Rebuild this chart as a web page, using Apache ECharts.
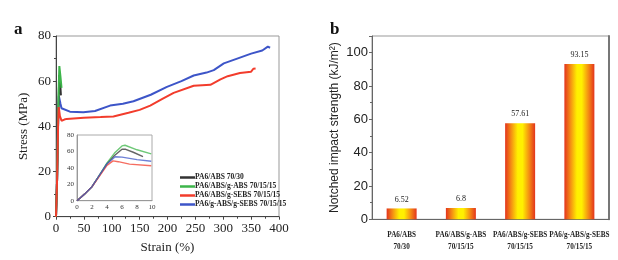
<!DOCTYPE html>
<html><head><meta charset="utf-8">
<script src="https://cdn.jsdelivr.net/npm/echarts@6/dist/echarts.min.js"></script>
<style>html,body{margin:0;padding:0;background:#fff}#c{width:618px;height:260px}</style>
</head><body><div id="c"></div>
<script>
const seriesNames = ['PA6/ABS 70/30','PA6/ABS/g-ABS 70/15/15','PA6/ABS/g-SEBS 70/15/15','PA6/g-ABS/g-SEBS 70/15/15'];
const blackData = [[0,0],[1,8],[2,17],[3,31],[4,45],[5,55],[6,62.7],[6.5,62.6],[7.5,59],[8.8,53.7]];
const greenData = [[0,0],[1,8],[2,17],[3,31],[4,46],[5,58],[6,66.7],[6.4,67.5],[8,62],[9.9,57]];
const redData = [[0,0],[1,8],[2,17],[3,30],[4,43],[4.8,48.5],[5.5,47.5],[7,44.5],[9.9,42.5],[15,43],[19,43.3],[50,43.8],[80,44.1],[103,44.4],[130,46],[150,47.3],[169,49.2],[190,52],[211,54.8],[247,58],[277,58.4],[295,60.8],[308,62.2],[330,63.6],[350,64.2],[354,65.5],[358,65.6]];
const blueData = [[0,0],[1,8],[2,17],[3,31],[4,45],[5.1,53.5],[6,53],[8,50],[9.9,48],[13,47.4],[25,46.5],[49,46.2],[70,46.8],[97,49.2],[120,50],[139,51.1],[170,54],[199,57.5],[225,60],[247,62.5],[270,63.8],[283,64.9],[301,67.9],[325,70],[350,72.2],[370,73.6],[380,75.3],[384,74.8]];
const colors = ['#333333','#3db54a','#f23c2c','#3d55c8'];
const barCategories = ['PA6/ABS\n70/30','PA6/ABS/g-ABS\n70/15/15','PA6/ABS/g-SEBS\n70/15/15','PA6/g-ABS/g-SEBS\n70/15/15'];
const barValues = [6.52, 6.8, 57.61, 93.15];
const barLabels = ['6.52','6.8','57.61','93.15'];

const serif = 'Liberation Serif';
const sans = 'Liberation Sans';
const chart = echarts.init(document.getElementById('c'));
const datas = [blackData, greenData, redData, blueData];
const series = [];
datas.forEach((d,i)=>{
  series.push({name:seriesNames[i],type:'line',xAxisIndex:0,yAxisIndex:0,data:d,showSymbol:false,symbol:'none',
    lineStyle:{color:colors[i],width:2},itemStyle:{color:colors[i]},z:5-(i===3?1:0)});
});
datas.forEach((d,i)=>{
  series.push({type:'line',xAxisIndex:1,yAxisIndex:1,data:d.filter(p=>p[0]<=10.5),showSymbol:false,symbol:'none',
    lineStyle:{color:colors[i],width:1.4,opacity:0.75},itemStyle:{color:colors[i]},clip:true});
});
const grad = {type:'linear',x:0,y:0,x2:1,y2:0,colorStops:[
  {offset:0,color:'#e3341d'},{offset:0.2,color:'#f48d14'},{offset:0.42,color:'#fff000'},
  {offset:0.58,color:'#fff000'},{offset:0.8,color:'#f48d14'},{offset:1,color:'#e3341d'}]};
series.push({type:'bar',xAxisIndex:2,yAxisIndex:2,data:barValues,barWidth:30,
  itemStyle:{color:grad},
  label:{show:true,position:'top',distance:5,formatter:p=>barLabels[p.dataIndex],fontFamily:serif,fontSize:8,color:'#222'}});

chart.setOption({
  animation:false,
  title:[
    {text:'a',left:9,top:16,textStyle:{fontFamily:serif,fontWeight:'bold',fontSize:17,color:'#111'}},
    {text:'b',left:325,top:16,textStyle:{fontFamily:serif,fontWeight:'bold',fontSize:17,color:'#111'}}
  ],
  legend:{data:seriesNames,orient:'vertical',left:175,top:168,itemGap:0,itemWidth:15,itemHeight:2.5,icon:'rect',
    textStyle:{fontFamily:serif,fontSize:7.5,fontWeight:'bold',color:'#222',padding:[0,0,0,-5],lineHeight:9}},
  grid:[
    {left:56,top:36,width:223,height:180.7,show:true,borderColor:'#999',borderWidth:1},
    {left:77,top:135,width:75,height:65.7,show:true,borderColor:'#aaa',borderWidth:1},
    {left:372,top:36,width:237,height:183.3,show:true,borderColor:'#999',borderWidth:1}
  ],
  xAxis:[
    {gridIndex:0,type:'value',min:0,max:400,interval:50,name:'Strain (%)',nameLocation:'middle',nameGap:24,
     nameTextStyle:{fontFamily:serif,fontSize:13,color:'#222'},
     axisLine:{lineStyle:{color:'#444'}},axisTick:{length:3,lineStyle:{color:'#444'}},
     minorTick:{show:true,splitNumber:2,length:2},splitLine:{show:false},
     axisLabel:{fontFamily:serif,fontSize:13,color:'#222',margin:5}},
    {gridIndex:1,type:'value',min:0,max:10,interval:2,
     axisLine:{lineStyle:{color:'#999'}},axisTick:{show:false},splitLine:{show:false},
     axisLabel:{fontFamily:serif,fontSize:7,color:'#333',margin:3}},
    {gridIndex:2,type:'category',data:barCategories,
     axisLine:{lineStyle:{color:'#666'}},axisTick:{length:3,inside:true,lineStyle:{color:'#666'}},
     axisLabel:{fontFamily:serif,fontSize:7.2,fontWeight:'bold',color:'#222',margin:10,lineHeight:12,interval:0}}
  ],
  yAxis:[
    {gridIndex:0,type:'value',min:0,max:80,interval:20,name:'Stress (MPa)',nameLocation:'middle',nameGap:26,
     nameTextStyle:{fontFamily:serif,fontSize:13,color:'#222'},
     axisLine:{show:true,lineStyle:{color:'#444'}},axisTick:{show:true,length:3,lineStyle:{color:'#444'}},
     minorTick:{show:true,splitNumber:2,length:2},splitLine:{show:false},
     axisLabel:{fontFamily:serif,fontSize:13,color:'#222',margin:5}},
    {gridIndex:1,type:'value',min:0,max:80,interval:20,
     axisLine:{show:true,lineStyle:{color:'#999'}},axisTick:{show:false},splitLine:{show:false},
     axisLabel:{fontFamily:serif,fontSize:7,color:'#333',margin:3}},
    {gridIndex:2,type:'value',min:0,max:110,interval:20,name:'Notched impact strength (kJ/m\u00B2)',nameLocation:'middle',nameGap:31,
     nameTextStyle:{fontFamily:sans,fontSize:12,color:'#222'},
     axisLine:{show:true,lineStyle:{color:'#666'}},axisTick:{show:true,length:3,lineStyle:{color:'#666'}},
     minorTick:{show:true,splitNumber:2,length:2},splitLine:{show:false},
     axisLabel:{fontFamily:sans,fontSize:13,color:'#222',margin:4,showMaxLabel:false,formatter:v=>v>100?'':String(v)}},
    {gridIndex:2,type:'value',position:'right',min:0,max:110,axisLine:{show:true,lineStyle:{color:'#777',width:2}},
     axisTick:{show:false},axisLabel:{show:false},splitLine:{show:false}}
  ],
  series:series
});
</script></body></html>
